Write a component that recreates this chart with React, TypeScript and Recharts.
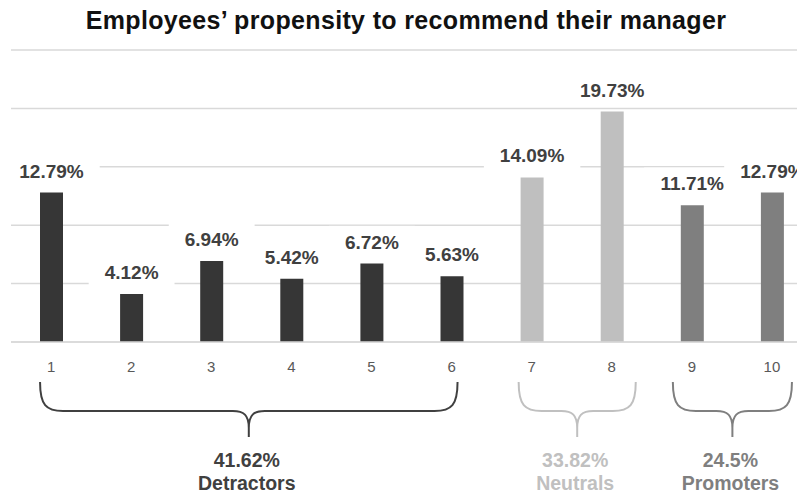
import React from 'react';
import { BarChart, Bar, XAxis, YAxis, CartesianGrid, Cell, LabelList } from 'recharts';

// Scores 1-10 and share of employees giving each score
const scores = ['1', '2', '3', '4', '5', '6', '7', '8', '9', '10'];
const shares = [12.79, 4.12, 6.94, 5.42, 6.72, 5.63, 14.09, 19.73, 11.71, 12.79];
const scoreGroup = ['Detractors', 'Detractors', 'Detractors', 'Detractors', 'Detractors', 'Detractors', 'Neutrals', 'Neutrals', 'Promoters', 'Promoters'];

// Group totals shown under the braces
const groupNames = ['Detractors', 'Neutrals', 'Promoters'];
const groupTotals = [41.62, 33.82, 24.5];

const yTicks = [0, 5, 10, 15, 20, 25];

const FONT = '"Liberation Sans", Arial, sans-serif';
const barColors: Record<string, string> = { Detractors: '#363636', Neutrals: '#bfbfbf', Promoters: '#7f7f7f' };
const textColors: Record<string, string> = { Detractors: '#404040', Neutrals: '#c0c0c0', Promoters: '#7f7f7f' };
// how far each brace reaches past its outer bar centres (left, right)
const bracePad: Record<string, [number, number]> = { Detractors: [11, 6], Neutrals: [13, 24], Promoters: [19, 20] };

const W = 820;
const H = 494;
const margin = { top: 50, right: 8, left: 11, bottom: 122 };
const band = (W - margin.left - margin.right) / scores.length;
const catCenter = (i: number) => margin.left + band * (i + 0.5);

const data = scores.map((s, i) => ({ score: s, share: shares[i], group: scoreGroup[i] }));

// rough width of a bold label, Arial metrics
const textWidth = (s: string, fs: number) =>
  s.split('').reduce((w, ch) => w + (ch === '.' ? 0.278 : ch === '%' ? 0.889 : 0.556), 0) * fs;

const BarLabel = (props: any) => {
  const { x, y, width, value } = props;
  const fs = 19;
  const cx = Number(x) + Number(width) / 2;
  const base = Number(y) - 15;
  const txt = Number(value).toFixed(2) + '%';
  const tw = textWidth(txt, fs);
  return (
    <g>
      <rect x={cx - tw / 2 - 16} y={base - fs * 0.72 - 9} width={tw + 32} height={fs * 0.72 + 18} fill="#fff" />
      <text x={cx} y={base} textAnchor="middle" fontFamily={FONT} fontSize={fs} fontWeight="bold" fill="#404040">
        {txt}
      </text>
    </g>
  );
};

const bracePath = (x0: number, x1: number) => {
  const xm = (x0 + x1) / 2;
  const top = 382, mid = 411, tip = 437;
  const side = (xe: number, d: number) =>
    `M ${xe} ${top} C ${xe} ${mid - 6} ${xe + 6 * d} ${mid} ${xe + 23 * d} ${mid} ` +
    `L ${xm - 16 * d} ${mid} C ${xm - 5 * d} ${mid} ${xm} ${mid + 4} ${xm} ${mid + 17} L ${xm} ${tip}`;
  return side(x0, 1) + ' ' + side(x1, -1);
};

const App: React.FC = () => {
  return (
    <div style={{ position: 'relative', width: 805, height: H, overflow: 'hidden', margin: '-8px 0 0 -8px', background: '#fff' }}>
      <BarChart width={W} height={H} data={data} margin={margin} barSize={23}>
        <CartesianGrid vertical={false} stroke="#d9d9d9" strokeWidth={1.5} />
        <XAxis
          dataKey="score"
          height={30}
          tickLine={false}
          axisLine={{ stroke: '#d9d9d9', strokeWidth: 1.5 }}
          tickMargin={13}
          tick={{ fill: '#595959', fontSize: 15, fontFamily: FONT }}
          interval={0}
        />
        <YAxis hide domain={[0, 25]} ticks={yTicks} />
        <Bar dataKey="share" isAnimationActive={false}>
          {data.map((d) => (
            <Cell key={d.score} fill={barColors[d.group]} />
          ))}
          <LabelList dataKey="share" content={BarLabel} />
        </Bar>
      </BarChart>
      <svg width={805} height={H} style={{ position: 'absolute', left: 0, top: 0, pointerEvents: 'none' }}>
        <text x={406} y={29} textAnchor="middle" fontFamily={FONT} fontSize={25} fontWeight="bold" letterSpacing={0.35} fill="#111">
          Employees’ propensity to recommend their manager
        </text>
        {groupNames.map((g, gi) => {
          const idx = scoreGroup.map((s, i) => (s === g ? i : -1)).filter((i) => i >= 0);
          const x0 = catCenter(idx[0]) - bracePad[g][0];
          const x1 = catCenter(idx[idx.length - 1]) + bracePad[g][1];
          const xm = (x0 + x1) / 2;
          return (
            <g key={g}>
              <path d={bracePath(x0, x1)} fill="none" stroke={textColors[g]} strokeWidth={2} />
              <text x={xm - 2} y={467} textAnchor="middle" fontFamily={FONT} fontSize={19.5} fontWeight="bold" fill={textColors[g]}>
                {groupTotals[gi]}%
              </text>
              <text x={xm - 2} y={490} textAnchor="middle" fontFamily={FONT} fontSize={19.5} fontWeight="bold" fill={textColors[g]}>
                {g}
              </text>
            </g>
          );
        })}
      </svg>
    </div>
  );
};

export default App;
